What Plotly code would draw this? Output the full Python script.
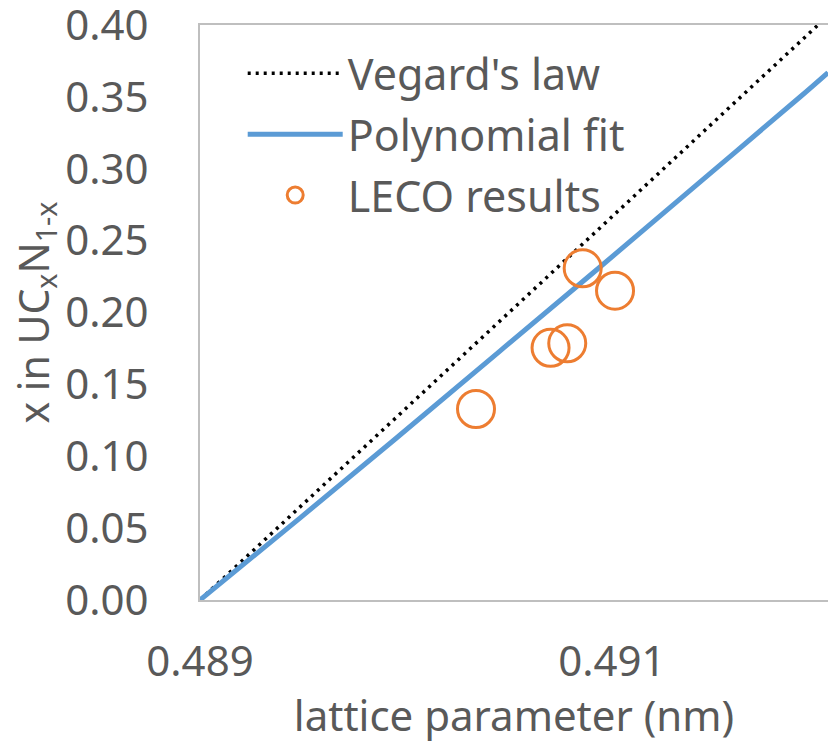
import plotly.graph_objects as go

# Data
vegard_x = [0.489, 0.492]
vegard_y = [0.0, 0.40]

poly_x = [0.489, 0.489485, 0.489971, 0.490456, 0.490942, 0.491427, 0.491913, 0.492049]
poly_y = [0.0, 0.0570, 0.1148, 0.1732, 0.2317, 0.2908, 0.3500, 0.3670]

leco_x = [0.490340, 0.490702, 0.490783, 0.490858, 0.491015]
leco_y = [0.1329, 0.1755, 0.1786, 0.2308, 0.2152]

x_tickvals = [0.489, 0.491]
x_ticktext = ["0.489", "0.491"]
y_tickvals = [0.0, 0.05, 0.10, 0.15, 0.20, 0.25, 0.30, 0.35, 0.40]
y_ticktext = ["0.00", "0.05", "0.10", "0.15", "0.20", "0.25", "0.30", "0.35", "0.40"]

FONT = "Noto Sans"
GREY = "#595959"

fig = go.Figure()
fig.add_trace(go.Scatter(x=vegard_x, y=vegard_y, mode="lines", name="Vegard's law",
                         legendgroup="a",
                         line=dict(color="black", width=3.5, dash="3px,5px")))
fig.add_trace(go.Scatter(x=poly_x, y=poly_y, mode="lines", name="Polynomial fit",
                         legendgroup="b",
                         line=dict(color="#5B9BD5", width=5, shape="spline")))
fig.add_trace(go.Scatter(x=leco_x, y=leco_y, mode="markers", name="LECO results",
                         legendgroup="c",
                         marker=dict(symbol="circle-open", size=37, color="#ED7D31",
                                     line=dict(width=3, color="#ED7D31"))))

fig.update_layout(
    width=828, height=743,
    margin=dict(l=200, r=0, t=25, b=143, autoexpand=False),
    plot_bgcolor="white", paper_bgcolor="white",
    font=dict(family=FONT, color=GREY, size=42),
    showlegend=True,
    legend=dict(x=0.068, y=0.976, xanchor="left", yanchor="top",
                bgcolor="rgba(0,0,0,0)", font=dict(size=43, color=GREY, family=FONT),
                itemwidth=95, tracegroupgap=2),
    xaxis=dict(range=[0.489, 0.492049], tickvals=x_tickvals, ticktext=x_ticktext,
               showgrid=False, zeroline=False, showline=True, linecolor="#BFBFBF",
               linewidth=2, mirror=True, ticks="", ticklabelstandoff=24,
               ticklabeloverflow="allow", automargin=False,
               tickfont=dict(size=42, color=GREY, family=FONT),
               title=dict(text="lattice parameter (nm)", standoff=2,
                          font=dict(size=42, color=GREY, family=FONT))),
    yaxis=dict(range=[0, 0.4001], tickvals=y_tickvals, ticktext=y_ticktext,
               showgrid=False, zeroline=False, showline=True, linecolor="#BFBFBF",
               linewidth=2, mirror=True, ticks="", ticklabelstandoff=41,
               ticklabeloverflow="allow", automargin=False,
               tickfont=dict(size=42, color=GREY, family=FONT),
               title=dict(text="x in UC<sub>x</sub>N<sub>1-x</sub>", standoff=0,
                          font=dict(size=41, color=GREY, family=FONT))),
)

fig.write_html("out.html", config={"displayModeBar": False},
               post_script="document.body.style.margin='0';document.body.style.overflow='hidden';")
